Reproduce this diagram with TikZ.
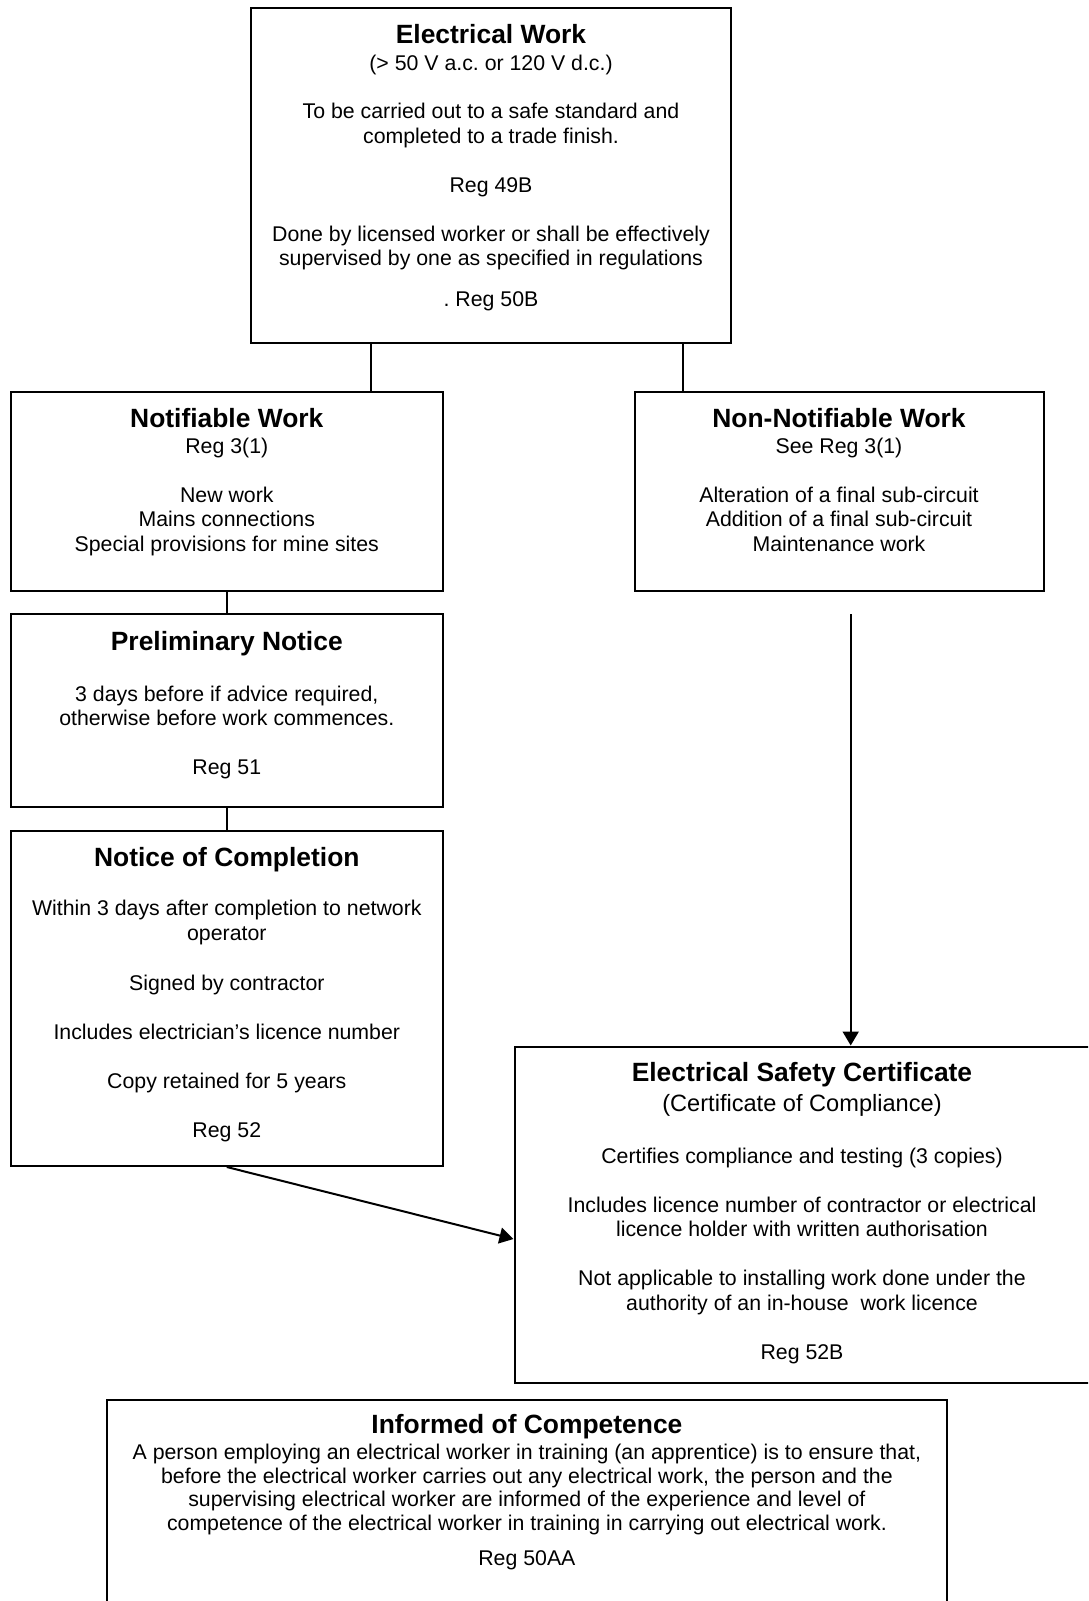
\documentclass[tikz,border=0pt]{standalone}
\usepackage{fontspec}
\setmainfont{Liberation Sans}
\usetikzlibrary{arrows.meta,fit}
\tikzset{
  box/.style={draw, line width=1pt, inner sep=0pt},
  ln/.style={line width=1pt},
  arr/.style={line width=1pt, -{Triangle[length=7pt,width=8pt]}},
  body/.style={font=\fontsize{10.65pt}{12.25pt}\selectfont, inner sep=0pt, text height=7.67pt, text depth=0pt, anchor=center},
  ttl/.style={font=\fontsize{13.2pt}{15pt}\selectfont\bfseries, inner sep=0pt, text height=9.5pt, text depth=0pt, anchor=center},
  sub/.style={font=\fontsize{11.8pt}{13.5pt}\selectfont, inner sep=0pt, text height=8.5pt, text depth=0pt, anchor=center},
}
\begin{document}
\frenchspacing
\begin{tikzpicture}[x=0.5pt, y=-0.5pt]
\clip (0,0) rectangle (1088,1601);
\fill[white] (0,0) rectangle (1088,1601);

% boxes
\node[box, fit={(251,8) (731,343)}] (top) {};
\node[box, fit={(10.5,391.5) (443,590.5)}] (notif) {};
\node[box, fit={(635,391.5) (1043.5,590.5)}] (non) {};
\node[box, fit={(10.5,614) (443,806.5)}] (prelim) {};
\node[box, fit={(10.5,831) (443,1166)}] (notice) {};
\node[box, fit={(514.5,1046.5) (1092,1382.5)}] (esc) {};
\node[box, fit={(106.7,1400) (947,1620)}] (inf) {};

% connectors
\coordinate (c1) at (370.7,0);
\coordinate (c2) at (682.7,0);
\coordinate (c3) at (226.8,0);
\coordinate (escin) at (0,1239);
\coordinate (vstart) at (850.7,614);
\draw[ln] (top.south -| c1) -- (notif.north -| c1);
\draw[ln] (top.south -| c2) -- (non.north -| c2);
\draw[ln] (notif.south -| c3) -- (prelim.north -| c3);
\draw[ln] (prelim.south -| c3) -- (notice.north -| c3);
\draw[arr] (notice.south) -- (esc.west |- escin);
\draw[arr] (vstart) -- (esc.north -| vstart);

% top box text
\node[ttl]  (t1) at (491,33.5) {Electrical Work};
\node[body] (t2) at (491,63) {(> 50 V a.c. or 120 V d.c.)};
\node[body] (t3) at (491,111) {To be carried out to a safe standard and};
\node[body] (t4) at (491,136) {completed to a trade finish.};
\node[body] (t5) at (491,185) {Reg 49B};
\node[body] (t6) at (491,234) {Done by licensed worker or shall be effectively};
\node[body] (t7) at (491,257.5) {supervised by one as specified in regulations};
\node[body] (t8) at (491,299) {. Reg 50B};

% notifiable
\node[ttl]  (n1) at (226.8,417.5) {Notifiable Work};
\node[body] (n2) at (226.8,446) {Reg 3(1)};
\node[body] (n3) at (226.8,494.5) {New work};
\node[body] (n4) at (226.8,519) {Mains connections};
\node[body] (n5) at (226.8,543.5) {Special provisions for mine sites};

% non-notifiable
\node[ttl]  (m1) at (839,417.5) {Non-Notifiable Work};
\node[body] (m2) at (839,446) {See Reg 3(1)};
\node[body] (m3) at (839,494.5) {Alteration of a final sub-circuit};
\node[body] (m4) at (839,519) {Addition of a final sub-circuit};
\node[body] (m5) at (839,543.5) {Maintenance work};

% preliminary
\node[ttl]  (p1) at (226.8,641) {Preliminary Notice};
\node[body] (p2) at (226.8,693.5) {3 days before if advice required,};
\node[body] (p3) at (226.8,718) {otherwise before work commences.};
\node[body] (p4) at (226.8,766.5) {Reg 51};

% notice of completion
\node[ttl]  (q1) at (226.8,856.5) {Notice of Completion};
\node[body] (q2) at (226.8,908) {Within 3 days after completion to network};
\node[body] (q3) at (226.8,932.5) {operator};
\node[body] (q4) at (226.8,982.5) {Signed by contractor};
\node[body] (q5) at (226.8,1031.5) {Includes electrician’s licence number};
\node[body] (q6) at (226.8,1080.5) {Copy retained for 5 years};
\node[body] (q7) at (226.8,1129.5) {Reg 52};

% electrical safety certificate
\node[ttl]  (e1) at (802,1072) {Electrical Safety Certificate};
\node[sub]  (e2) at (802,1103) {(Certificate of Compliance)};
\node[body] (e3) at (802,1155.5) {Certifies compliance and testing (3 copies)};
\node[body] (e4) at (802,1204.5) {Includes licence number of contractor or electrical};
\node[body] (e5) at (802,1229) {licence holder with written authorisation};
\node[body] (e6) at (802,1278) {Not applicable to installing work done under the};
\node[body] (e7) at (802,1302.5) {authority of an in-house\ \ work licence};
\node[body] (e8) at (802,1351.5) {Reg 52B};

% informed of competence
\node[ttl]  (i1) at (526.9,1424) {Informed of Competence};
\node[body] (i2) at (526.9,1452) {A person employing an electrical worker in training (an apprentice) is to ensure that,};
\node[body] (i3) at (526.9,1475.5) {before the electrical worker carries out any electrical work, the person and the};
\node[body] (i4) at (526.9,1499) {supervising electrical worker are informed of the experience and level of};
\node[body] (i5) at (526.9,1522.5) {competence of the electrical worker in training in carrying out electrical work.};
\node[body] (i6) at (526.9,1557.5) {Reg 50AA};
\end{tikzpicture}
\end{document}
